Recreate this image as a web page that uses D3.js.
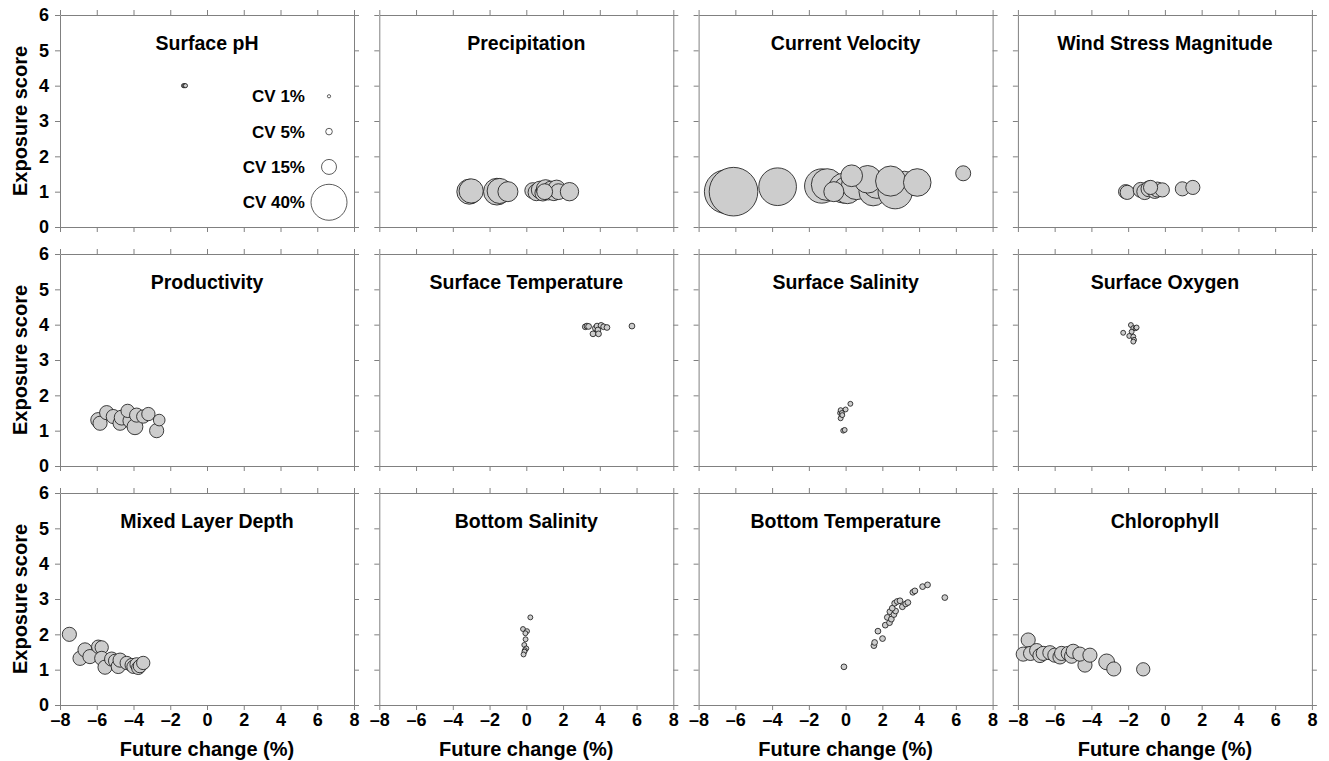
<!DOCTYPE html>
<html>
<head>
<meta charset="utf-8">
<script src="https://cdn.jsdelivr.net/npm/d3@7"></script>
<style>
  body { margin: 0; background: #fff; }
  svg text { font-family: "Liberation Sans", Arial, Helvetica, sans-serif; font-weight: bold; }
</style>
</head>
<body>
<div id="chart"></div>
<script>
const titles = [
  "Surface pH", "Precipitation", "Current Velocity", "Wind Stress Magnitude",
  "Productivity", "Surface Temperature", "Surface Salinity", "Surface Oxygen",
  "Mixed Layer Depth", "Bottom Salinity", "Bottom Temperature", "Chlorophyll"
];
const xTicks = [-8, -6, -4, -2, 0, 2, 4, 6, 8];
const yTicks = [0, 1, 2, 3, 4, 5, 6];
const cvLegend = [1, 5, 15, 40];
const cvLegendY = [3.7, 2.7, 1.7, 0.7];

// each point: [future change (%), exposure score, CV (%)]
const surfacePH = [[-1.28, 4.0, 2], [-1.22, 4.0, 2], [-1.17, 4.0, 2]];
const precipitation = [
  [-3.1, 1.0, 27], [-3.0, 1.02, 26], [-1.6, 1.0, 29], [-1.45, 1.02, 27], [-1.0, 1.0, 21],
  [0.35, 1.03, 16], [0.55, 0.98, 17], [0.75, 1.05, 18], [0.9, 0.96, 16], [1.05, 1.08, 19],
  [1.2, 1.0, 17], [1.35, 1.05, 18], [1.5, 0.97, 16], [1.65, 1.08, 18], [1.75, 1.0, 16],
  [1.0, 1.0, 16], [2.35, 1.0, 19]
];
const currentVelocity = [
  [-6.5, 1.0, 49], [-6.1, 1.0, 55], [-3.7, 1.14, 42], [-1.3, 1.16, 38], [-1.0, 1.2, 35],
  [-0.1, 1.1, 33], [0.1, 1.05, 30], [0.6, 1.2, 33], [1.5, 1.0, 31], [1.7, 1.2, 30],
  [3.2, 1.2, 29], [2.7, 1.0, 38], [1.2, 1.35, 30], [2.45, 1.3, 33], [-0.64, 1.0, 21],
  [0.33, 1.45, 23], [3.9, 1.26, 30], [6.4, 1.52, 15]
];
const windStress = [
  [-2.14, 1.0, 14], [-2.05, 0.98, 14], [-1.32, 1.05, 15], [-1.1, 1.0, 16], [-0.87, 1.08, 16],
  [-0.55, 1.02, 15], [-0.41, 1.06, 15], [-0.14, 1.05, 14], [-0.78, 1.12, 14],
  [0.95, 1.08, 14], [1.52, 1.12, 14]
];
const productivity = [
  [-5.92, 1.30, 15], [-5.82, 1.21, 14], [-5.46, 1.51, 14], [-5.1, 1.4, 14], [-4.73, 1.21, 14],
  [-4.64, 1.37, 15], [-4.19, 1.28, 14], [-4.32, 1.56, 13], [-3.92, 1.11, 16], [-3.83, 1.44, 14],
  [-3.47, 1.4, 13], [-3.19, 1.47, 13], [-2.74, 1.0, 14], [-2.6, 1.30, 11]
];
const surfaceTemp = [
  [3.21, 3.94, 4], [3.3, 3.96, 4], [3.39, 3.95, 4], [3.63, 3.74, 4], [3.76, 3.9, 4],
  [3.85, 3.96, 4], [3.9, 3.85, 4], [3.93, 3.74, 4], [4.07, 3.98, 4], [4.21, 3.94, 4],
  [4.39, 3.92, 4], [5.75, 3.96, 4]
];
const surfaceSalinity = [
  [-0.3, 1.5, 3], [-0.27, 1.58, 3], [-0.2, 1.5, 3], [-0.27, 1.35, 3], [-0.18, 1.44, 3],
  [0.0, 1.6, 3], [0.26, 1.76, 3], [-0.13, 1.0, 3], [-0.05, 1.02, 3]
];
const surfaceOxygen = [
  [-2.27, 3.77, 3], [-1.85, 3.99, 3], [-1.72, 3.9, 3], [-1.59, 3.9, 3], [-1.54, 3.92, 3],
  [-1.81, 3.8, 3], [-1.94, 3.68, 3], [-1.72, 3.66, 3], [-1.68, 3.57, 3], [-1.72, 3.52, 3]
];
const mixedLayer = [
  [-7.49, 2.0, 14], [-6.91, 1.32, 14], [-6.64, 1.56, 14], [-6.37, 1.37, 14], [-5.92, 1.65, 13],
  [-5.73, 1.63, 13], [-5.73, 1.32, 14], [-5.55, 1.07, 14], [-5.19, 1.3, 14], [-5.0, 1.25, 13],
  [-4.83, 1.09, 14], [-4.73, 1.27, 14], [-4.37, 1.19, 13], [-4.1, 1.13, 13], [-4.0, 1.08, 13],
  [-3.83, 1.15, 13], [-3.74, 1.05, 13], [-3.65, 1.1, 13], [-3.47, 1.19, 13]
];
const bottomSalinity = [
  [0.22, 2.48, 3], [-0.18, 2.15, 3], [0.04, 2.09, 3], [-0.05, 2.03, 3], [-0.04, 1.86, 3],
  [-0.11, 1.70, 3], [0.0, 1.6, 3], [-0.08, 1.55, 3], [-0.1, 1.51, 3], [-0.15, 1.43, 3]
];
const bottomTemp = [
  [-0.09, 1.08, 4], [1.54, 1.68, 4], [1.58, 1.77, 4], [1.76, 2.09, 4], [2.01, 1.88, 4],
  [2.16, 2.26, 4], [2.39, 2.33, 4], [2.27, 2.48, 4], [2.49, 2.43, 4], [2.41, 2.64, 4],
  [2.63, 2.56, 4], [2.72, 2.66, 4], [2.54, 2.74, 4], [2.67, 2.88, 4], [2.81, 2.93, 4],
  [2.96, 2.95, 4], [3.09, 2.78, 4], [3.27, 2.86, 4], [3.39, 2.90, 4], [3.66, 3.19, 4],
  [3.77, 3.23, 4], [4.19, 3.35, 4], [4.46, 3.40, 4], [5.40, 3.04, 4]
];
const chlorophyll = [
  [-7.71, 1.44, 14], [-7.44, 1.84, 14], [-7.31, 1.46, 14], [-6.98, 1.54, 14], [-6.8, 1.4, 14],
  [-6.62, 1.46, 14], [-6.26, 1.48, 14], [-5.99, 1.41, 14], [-5.71, 1.36, 14], [-5.62, 1.46, 14],
  [-5.26, 1.46, 14], [-5.08, 1.38, 14], [-4.99, 1.52, 14], [-4.35, 1.13, 14], [-4.63, 1.44, 14],
  [-4.08, 1.41, 14], [-3.17, 1.22, 16], [-2.78, 1.02, 14], [-1.18, 1.01, 13]
];

const panelData = [
  surfacePH, precipitation, currentVelocity, windStress,
  productivity, surfaceTemp, surfaceSalinity, surfaceOxygen,
  mixedLayer, bottomSalinity, bottomTemp, chlorophyll
];

const width = 1329;
const height = 761;
const pw = 294, ph = 212;
const left0 = 60, top0 = 15, colStep = 319.3, rowStep = 239;
const frameColor = "#808080";

const x = d3.scaleLinear().domain([-8, 8]).range([0, pw]);
const y = d3.scaleLinear().domain([0, 6]).range([ph, 0]);
const r = d3.scaleLinear().domain([0, 40]).range([1.2, 18]);

const fmt = d => d < 0 ? "\u2013" + Math.abs(d) : String(d);

const svg = d3.select("#chart")
  .append("svg")
  .attr("width", width)
  .attr("height", height)
  .attr("viewBox", [0, 0, width, height]);

function styleAxis(g) {
  g.attr("font-family", null).attr("font-size", null);
  g.select(".domain").attr("stroke", frameColor).attr("stroke-width", 1);
  g.selectAll(".tick line").attr("stroke", frameColor);
  g.selectAll(".tick text")
    .attr("fill", "#000")
    .style("font-family", "'Liberation Sans', Arial, sans-serif")
    .style("font-size", "18px")
    .style("font-weight", "bold");
}

titles.forEach((title, i) => {
  const col = i % 4, row = Math.floor(i / 4);
  const g = svg.append("g")
    .attr("transform", `translate(${left0 + col * colStep},${top0 + row * rowStep})`);

  // frame axes, ticks outward on all four sides
  g.append("g")
    .attr("transform", `translate(0,${ph})`)
    .call(d3.axisBottom(x).tickValues(xTicks).tickSize(5).tickSizeOuter(0).tickPadding(3)
      .tickFormat(row === 2 ? fmt : ""))
    .call(styleAxis);
  g.append("g")
    .call(d3.axisTop(x).tickValues(xTicks).tickSize(5).tickSizeOuter(0).tickFormat(""))
    .call(styleAxis);
  g.append("g")
    .call(d3.axisLeft(y).tickValues(yTicks).tickSize(5).tickSizeOuter(0).tickPadding(6)
      .tickFormat(col === 0 ? fmt : ""))
    .call(styleAxis);
  g.append("g")
    .attr("transform", `translate(${pw},0)`)
    .call(d3.axisRight(y).tickValues(yTicks).tickSize(5).tickSizeOuter(0).tickFormat(""))
    .call(styleAxis);

  g.append("text")
    .attr("x", pw / 2)
    .attr("y", 35)
    .attr("text-anchor", "middle")
    .style("font-size", "19.5px")
    .text(title);

  g.append("g")
    .selectAll("circle")
    .data(panelData[i])
    .join("circle")
    .attr("cx", d => x(d[0]))
    .attr("cy", d => y(d[1]))
    .attr("r", d => r(d[2]))
    .attr("fill", "#cdcdcd")
    .attr("stroke", "#111")
    .attr("stroke-width", 0.8);

  if (row === 2) {
    g.append("text")
      .attr("x", pw / 2)
      .attr("y", ph + 51)
      .attr("text-anchor", "middle")
      .style("font-size", "20px")
      .text("Future change (%)");
  }
  if (col === 0) {
    g.append("text")
      .attr("transform", `translate(-33,${ph / 2}) rotate(-90)`)
      .attr("text-anchor", "middle")
      .style("font-size", "20px")
      .text("Exposure score");
  }

  // size legend in first panel
  if (i === 0) {
    const lx = x(6.64);
    const lg = g.append("g");
    lg.selectAll("circle")
      .data(cvLegend)
      .join("circle")
      .attr("cx", lx)
      .attr("cy", (d, k) => y(cvLegendY[k]))
      .attr("r", d => r(d))
      .attr("fill", "#fff")
      .attr("stroke", "#333")
      .attr("stroke-width", 0.8);
    lg.selectAll("text")
      .data(cvLegend)
      .join("text")
      .attr("x", lx - 24)
      .attr("y", (d, k) => y(cvLegendY[k]) + 6)
      .attr("text-anchor", "end")
      .style("font-size", "17px")
      .text(d => `CV ${d}%`);
  }
});
</script>
</body>
</html>
